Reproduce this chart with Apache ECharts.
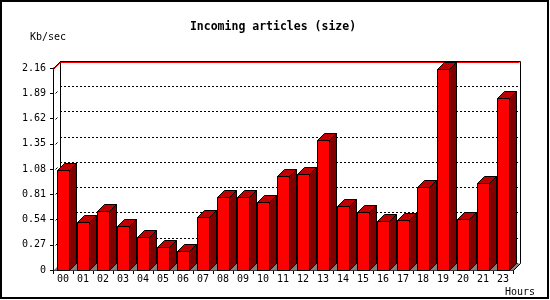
<!DOCTYPE html>
<html>
<head>
<meta charset="utf-8">
<script src="https://cdn.jsdelivr.net/npm/echarts@6/dist/echarts.min.js"></script>
<style>html,body{margin:0;padding:0;background:#fff}#c{width:550px;height:300px}</style>
</head>
<body>
<div id="c"></div>
<script>
var hours = ['00','01','02','03','04','05','06','07','08','09','10','11','12','13','14','15','16','17','18','19','20','21','23'];
var kbPerSec = [1.07,0.51,0.63,0.47,0.35,0.25,0.20,0.57,0.78,0.78,0.73,1.01,1.03,1.39,0.68,0.62,0.52,0.54,0.89,2.15,0.55,0.93,1.84];
var yMin = 0, yMax = 2.16, yStep = 0.27;
var titleText = 'Incoming articles (size)';
var yName = 'Kb/sec';
var xName = 'Hours';

var D = 7; // 3D depth in px
var MONO = '"DejaVu Sans Mono", "Liberation Mono", monospace';
var maxVal = Math.max.apply(null, kbPerSec);

function px(v){ return Math.round(v) + 0.5; }

function renderWalls(params, api){
  var cs = params.coordSys;
  var L = px(cs.x), R = px(cs.x + cs.width), T = px(cs.y), B = px(cs.y + cs.height);
  var blk = {stroke:'#000', lineWidth:1, fill:null};
  var kids = [];
  // floor
  kids.push({type:'polygon', shape:{points:[[L,B],[L+D,B-D],[R+D,B-D],[R,B]]}, style:{fill:'#808080', stroke:null}});
  kids.push({type:'line', shape:{x1:R,y1:B,x2:R+D,y2:B-D}, style:blk});
  // back wall frame
  kids.push({type:'polyline', shape:{points:[[L+D,B-D],[L+D,T-D],[R+D,T-D],[R+D,B-D]]}, style:blk});
  // top-left diagonal
  kids.push({type:'line', shape:{x1:L,y1:T,x2:L+D,y2:T-D}, style:blk});
  // small stubs on left wall at ticks
  for (var v = yStep; v < yMax - 1e-9; v += yStep) {
    var y = px(api.coord([0, v])[1]);
    kids.push({type:'line', shape:{x1:L+2,y1:y,x2:L+4,y2:y-2}, style:blk});
  }
  // max line (red)
  var ym = px(api.coord([0, maxVal])[1]);
  kids.push({type:'polyline', shape:{points:[[L,ym],[L+D,ym-D],[R+D-1,ym-D]]}, style:{stroke:'#ff0000', lineWidth:1, fill:null}});
  return {type:'group', children:kids};
}

function renderBar(params, api){
  var i = api.value(0), v = api.value(1);
  var top = api.coord([i, v]);
  var base = api.coord([i, 0]);
  var bw = api.size([1, 0])[0];
  var half = Math.round(bw * 0.3);
  var cx = Math.round(top[0]);
  var x0 = cx - half + 0.5, x1 = cx + half + 0.5;
  var yT = px(top[1]), yB = px(base[1]);
  var s = {stroke:'#000', lineWidth:1};
  return {type:'group', children:[
    {type:'polygon', shape:{points:[[x0,yT],[x1,yT],[x1,yB],[x0,yB]]}, style:Object.assign({fill:'#ff0000'}, s)},
    {type:'polygon', shape:{points:[[x0,yT],[x0+D,yT-D],[x1+D,yT-D],[x1,yT]]}, style:Object.assign({fill:'#c00000'}, s)},
    {type:'polygon', shape:{points:[[x1,yT],[x1+D,yT-D],[x1+D,yB-D],[x1,yB]]}, style:Object.assign({fill:'#800000'}, s)}
  ]};
}

var chart = echarts.init(document.getElementById('c'), null, {renderer:'canvas'});
chart.setOption({
  animation:false,
  backgroundColor:'#fff',
  grid:[
    {left:53, right:37, top:68, bottom:30},
    {left:60, right:30, top:61, bottom:37}
  ],
  xAxis:[
    {type:'category', gridIndex:0, data:hours, boundaryGap:true,
     axisLine:{lineStyle:{color:'#000', width:1}},
     axisTick:{show:true, length:4, interval:0, lineStyle:{color:'#000'}},
     axisLabel:{interval:0, margin:4, color:'#000', fontFamily:MONO, fontSize:10},
     splitLine:{show:false}},
    {type:'category', gridIndex:1, data:hours, show:false}
  ],
  yAxis:[
    {type:'value', gridIndex:0, min:yMin, max:yMax, interval:yStep,
     axisLine:{show:true, lineStyle:{color:'#000', width:1}},
     axisTick:{show:true, length:3, lineStyle:{color:'#000'}},
     axisLabel:{margin:7, color:'#000', fontFamily:MONO, fontSize:10,
       formatter:function(v){ return v === 0 ? '0' : v.toFixed(2); }},
     splitLine:{show:false}},
    {type:'value', gridIndex:1, min:yMin, max:yMax, interval:yStep,
     axisLine:{show:false}, axisTick:{show:false}, axisLabel:{show:false},
     splitLine:{show:true, lineStyle:{color:'#000', width:1, type:[2,2]}}}
  ],
  series:[
    {type:'custom', xAxisIndex:0, yAxisIndex:0, z:1, silent:true, data:[[0,0]], renderItem:renderWalls},
    {type:'custom', xAxisIndex:0, yAxisIndex:0, z:3, silent:true,
     data:kbPerSec.map(function(v,i){ return [i, v]; }), renderItem:renderBar}
  ],
  graphic:[
    {type:'rect', shape:{x:1, y:1, width:547, height:297}, style:{fill:null, stroke:'#000', lineWidth:2}, silent:true},
    {type:'text', x:273, y:27, style:{text:titleText, fontFamily:MONO, fontWeight:'bold', fontSize:11.5, fill:'#000', align:'center', verticalAlign:'middle'}},
    {type:'text', x:30, y:37, style:{text:yName, fontFamily:MONO, fontSize:10, fill:'#000', align:'left', verticalAlign:'middle'}},
    {type:'text', x:505, y:292, style:{text:xName, fontFamily:MONO, fontSize:10, fill:'#000', align:'left', verticalAlign:'middle'}}
  ]
});
</script>
</body>
</html>
